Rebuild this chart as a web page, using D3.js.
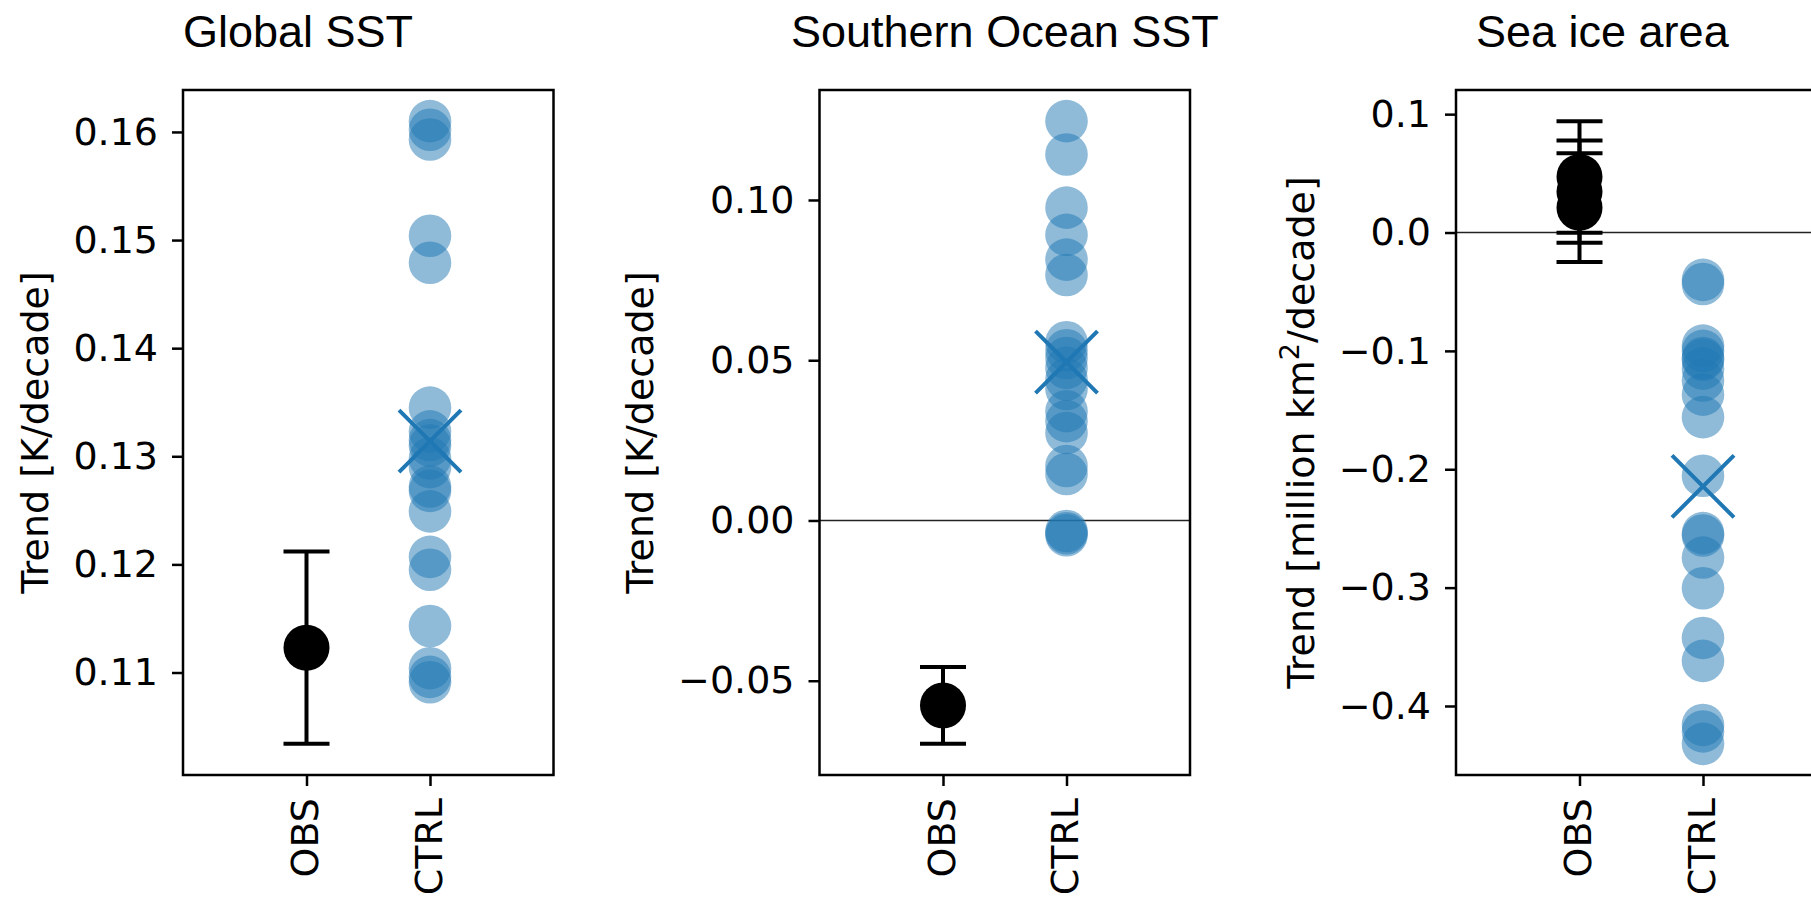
<!DOCTYPE html>
<html>
<head>
<meta charset="utf-8">
<script src="https://cdn.jsdelivr.net/npm/d3@7"></script>
<style>
    body { margin: 0; background: #fff; }
    svg text { font-family: "DejaVu Sans", sans-serif; fill: #000; }
    .panel-title { font-family: "Liberation Sans", Arial, sans-serif; font-size: 45px; }
</style>
</head>
<body>
<div id="chart"></div>
<script>

// x categories
const categories = ['OBS', 'CTRL'];

// Global SST trend [K/decade]
const globalObs = [0.1123];
const globalObsErr = [0.0089];
const globalCtrl = [0.1610, 0.1602, 0.1593, 0.1504, 0.1479, 0.1345, 0.1323, 0.1315, 0.1310, 0.1298,
                    0.1290, 0.1272, 0.1268, 0.1249, 0.1207, 0.1195, 0.1143, 0.1104, 0.1096, 0.1091];
const globalCtrlMean = [0.1314];
const globalTicks = [0.11, 0.12, 0.13, 0.14, 0.15, 0.16];

// Southern Ocean SST trend [K/decade]
const soObs = [-0.0577];
const soObsErr = [0.0120];
const soCtrl = [0.1246, 0.1142, 0.0976, 0.0891, 0.0814, 0.0766, 0.0556, 0.0531, 0.0507, 0.0476,
                0.0440, 0.0410, 0.0341, 0.0310, 0.0273, 0.0170, 0.0145, -0.0033, -0.0040, -0.0046];
const soCtrlMean = [0.0494];
const soTicks = [-0.05, 0.00, 0.05, 0.10];

// Sea ice area trend [million km2/decade], three obs products
const iceObs = [0.0470, 0.0345, 0.0210];
const iceObsErr = [0.0471, 0.0432, 0.0460];
const iceCtrl = [-0.0400, -0.0435, -0.0955, -0.1000, -0.1060, -0.1075, -0.1150, -0.1250, -0.1370, -0.1560,
                 -0.2055, -0.2540, -0.2560, -0.2746, -0.3005, -0.3425, -0.3619, -0.4160, -0.4215, -0.4320];
const iceCtrlMean = [-0.2145];
const iceTicks = [-0.4, -0.3, -0.2, -0.1, 0.0, 0.1];

const blue = '#1f77b4';

class TrendPanel {

    constructor(svg, config) {
        this.svg = svg;
        this.config = config;
        this.initVis();
    }

    initVis() {
        let vis = this;

        vis.width = 370.5;
        vis.height = 685;
        vis.top = 90;

        vis.g = vis.svg.append('g')
            .attr('transform', `translate(${vis.config.left}, ${vis.top})`);

        vis.x = d3.scalePoint(categories, [0, vis.width]).padding(1);

        // autoscale like matplotlib: data extent (incl. error bars) + 5% margins
        let lows = vis.config.obs.map((d, i) => d - vis.config.err[i]).concat(vis.config.ctrl);
        let highs = vis.config.obs.map((d, i) => d + vis.config.err[i]).concat(vis.config.ctrl);
        let lo = d3.min(lows), hi = d3.max(highs), pad = (hi - lo) * 0.05;
        vis.y = d3.scaleLinear([lo - pad, hi + pad], [vis.height, 0]);

        vis.updateVis();
    }

    updateVis() {
        let vis = this;
        let cfg = vis.config;

        // zero line
        if (cfg.zeroLine) {
            vis.g.append('line')
                .attr('x1', 0).attr('x2', vis.width)
                .attr('y1', vis.y(0)).attr('y2', vis.y(0))
                .attr('stroke', '#222')
                .attr('stroke-width', 1.3);
        }

        // observed trends with error bars
        let obsX = vis.x('OBS');
        let obsData = cfg.obs.map((d, i) => ({v: d, e: cfg.err[i]}));
        let bars = vis.g.selectAll('.errbar').data(obsData).enter().append('g').attr('class', 'errbar');
        bars.append('line')
            .attr('x1', obsX).attr('x2', obsX)
            .attr('y1', d => vis.y(d.v - d.e)).attr('y2', d => vis.y(d.v + d.e));
        bars.append('line')
            .attr('x1', obsX - 23).attr('x2', obsX + 23)
            .attr('y1', d => vis.y(d.v + d.e)).attr('y2', d => vis.y(d.v + d.e));
        bars.append('line')
            .attr('x1', obsX - 23).attr('x2', obsX + 23)
            .attr('y1', d => vis.y(d.v - d.e)).attr('y2', d => vis.y(d.v - d.e));
        bars.selectAll('line').attr('stroke', 'black').attr('stroke-width', 4);

        vis.g.selectAll('.obs-dot').data(obsData).enter().append('circle')
            .attr('class', 'obs-dot')
            .attr('cx', obsX)
            .attr('cy', d => vis.y(d.v))
            .attr('r', 23)
            .attr('fill', 'black');

        // control ensemble
        vis.g.selectAll('.ctrl-dot').data(cfg.ctrl).enter().append('circle')
            .attr('class', 'ctrl-dot')
            .attr('cx', vis.x('CTRL'))
            .attr('cy', d => vis.y(d))
            .attr('r', 21.3)
            .attr('fill', blue)
            .attr('fill-opacity', 0.5);

        // ensemble mean
        let half = 31;
        vis.g.selectAll('.mean').data(cfg.mean).enter().append('path')
            .attr('class', 'mean')
            .attr('d', d3.symbol(d3.symbolX, Math.pow(half / 0.6189, 2) + 1.7))
            .attr('transform', d => `translate(${vis.x('CTRL')}, ${vis.y(d)})`)
            .attr('fill', 'none')
            .attr('stroke', blue)
            .attr('stroke-width', 4);

        // axes
        let yAxis = vis.g.append('g')
            .call(d3.axisLeft(vis.y).tickValues(cfg.ticks).tickFormat(d3.format(cfg.fmt))
                .tickSize(11).tickPadding(14));
        let xAxis = vis.g.append('g')
            .attr('transform', `translate(0, ${vis.height})`)
            .call(d3.axisBottom(vis.x).tickSize(11));

        [yAxis, xAxis].forEach(a => {
            a.select('.domain').remove();
            a.attr('font-family', null).attr('font-size', null);
            a.selectAll('line').attr('stroke', 'black').attr('stroke-width', 2.5);
            a.selectAll('text').style('font-size', '38px');
        });

        xAxis.selectAll('text')
            .attr('y', 0)
            .attr('x', -23)
            .attr('dy', '0.3em')
            .attr('transform', 'rotate(-90)')
            .style('text-anchor', 'end');

        // spines
        vis.g.append('rect')
            .attr('width', vis.width)
            .attr('height', vis.height)
            .attr('fill', 'none')
            .attr('stroke', 'black')
            .attr('stroke-width', 2.5);

        // y label, placed left of the tick labels
        let bb = yAxis.node().getBBox();
        let label = vis.g.append('text')
            .attr('transform', `translate(${bb.x - 25}, ${vis.height / 2}) rotate(-90)`)
            .style('text-anchor', 'middle')
            .style('font-size', '38px');
        cfg.yLabel.forEach(part => {
            let t = label.append('tspan').text(part.text);
            if (part.sup) t.style('font-size', '27px').attr('dy', '-15px');
            if (part.after) t.attr('dy', '15px');
        });

        // title
        vis.svg.append('text')
            .attr('class', 'panel-title')
            .attr('x', cfg.titleX)
            .attr('y', 47)
            .text(cfg.title);
    }
}

let svg = d3.select('#chart').append('svg')
    .attr('width', 1811)
    .attr('height', 900)
    .style('display', 'block');

new TrendPanel(svg, {
    left: 183, title: 'Global SST', titleX: 183,
    obs: globalObs, err: globalObsErr, ctrl: globalCtrl, mean: globalCtrlMean,
    ticks: globalTicks, fmt: '.2f', zeroLine: false,
    yLabel: [{text: 'Trend [K/decade]'}]
});

new TrendPanel(svg, {
    left: 819.5, title: 'Southern Ocean SST', titleX: 791,
    obs: soObs, err: soObsErr, ctrl: soCtrl, mean: soCtrlMean,
    ticks: soTicks, fmt: '.2f', zeroLine: true,
    yLabel: [{text: 'Trend [K/decade]'}]
});

new TrendPanel(svg, {
    left: 1456, title: 'Sea ice area', titleX: 1476,
    obs: iceObs, err: iceObsErr, ctrl: iceCtrl, mean: iceCtrlMean,
    ticks: iceTicks, fmt: '.1f', zeroLine: true,
    yLabel: [{text: 'Trend [million km'}, {text: '2', sup: true}, {text: '/decade]', after: true}]
});

</script>
</body>
</html>
